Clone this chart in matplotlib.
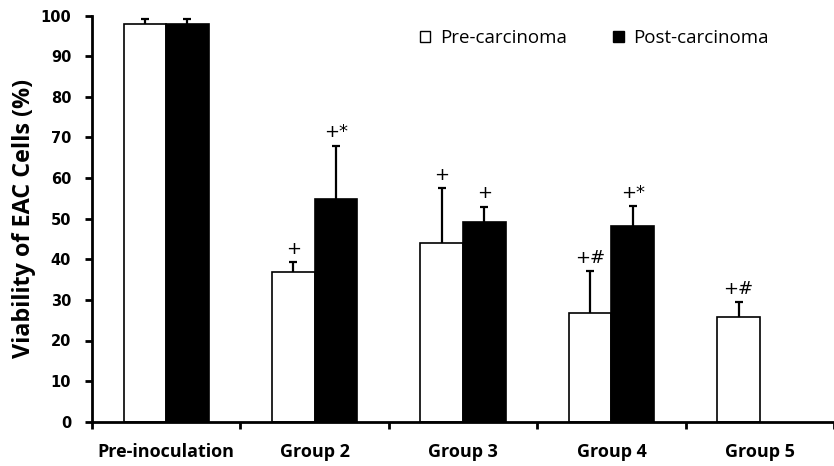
import matplotlib
matplotlib.use("Agg")
import matplotlib.pyplot as plt
from matplotlib.patches import Patch
import numpy as np

# Data
categories = ["Pre-inoculation", "Group 2", "Group 3", "Group 4", "Group 5"]
pre_vals = [98.0, 36.9, 43.9, 26.7, 25.8]
pre_err = [1.3, 2.4, 13.6, 10.4, 3.6]
post_vals = [98.0, 54.9, 49.3, 48.2, None]
post_err = [1.3, 13.1, 3.7, 4.9, None]
pre_marks = ["", "+", "+", "+#", "+#"]
post_marks = ["", "+*", "+", "+*", ""]
legend_labels = ["Pre-carcinoma", "Post-carcinoma"]
y_ticks = list(range(0, 101, 10))

label_font = "Open Sans"

fig = plt.figure(figsize=(8.34, 4.66), dpi=100)
ax = fig.add_axes([92 / 834, 1 - 421.7 / 466, 1 - 92 / 834, (421.7 - 15.7) / 466])

x = np.arange(len(categories))
w = 0.287


def upper_error(xpos, val, err):
    """Draw a one-sided (upward) error bar with a single cap."""
    eb = ax.errorbar([xpos], [val], yerr=[[0], [err]], fmt="none", ecolor="black",
                     elinewidth=1.6, capsize=3.0, capthick=1.6, zorder=3)
    for cap in eb.lines[1]:
        if np.allclose(cap.get_ydata(), val):
            cap.set_visible(False)


def mark(xpos, top, text):
    ax.annotate(text, (xpos, top), xytext=(0, 3), textcoords="offset points",
                ha="center", va="bottom", fontsize=13, family="DejaVu Sans")


for i in range(len(categories)):
    ax.bar(x[i] - w / 2, pre_vals[i], width=w, color="white", edgecolor="black",
           linewidth=1.2, zorder=2)
    upper_error(x[i] - w / 2, pre_vals[i], pre_err[i])
    if pre_marks[i]:
        mark(x[i] - w / 2, pre_vals[i] + pre_err[i], pre_marks[i])
    if post_vals[i] is not None:
        ax.bar(x[i] + w / 2, post_vals[i], width=w, color="black", edgecolor="black",
               linewidth=1.2, zorder=2)
        upper_error(x[i] + w / 2, post_vals[i], post_err[i])
        if post_marks[i]:
            mark(x[i] + w / 2, post_vals[i] + post_err[i], post_marks[i])

ax.set_xlim(-0.5, (834 - 92) / 150 - 0.5)
ax.set_ylim(0, 100)

ax.set_yticks(y_ticks)
ax.set_yticklabels([str(t) for t in y_ticks], fontsize=10.5, fontweight="bold",
                   family="DejaVu Sans")
ax.set_xticks(x)
ax.set_xticklabels(categories, fontsize=13, fontweight="bold", family=label_font)
ax.set_xticks(np.arange(-0.5, len(categories)), minor=True)
ax.tick_params(axis="x", which="major", length=0, pad=15)
ax.tick_params(axis="x", which="minor", length=5, width=2, direction="out")
ax.tick_params(axis="y", length=5, width=2, direction="out", pad=10)

for side in ["top", "right"]:
    ax.spines[side].set_visible(False)
for side in ["left", "bottom"]:
    ax.spines[side].set_linewidth(2)

ax.set_ylabel("Viability of EAC Cells (%)", fontsize=16.8, fontweight="bold",
              family=label_font)
ax.yaxis.set_label_coords(-0.0755, 0.5)

handles = [Patch(facecolor="white", edgecolor="black", linewidth=1.0),
           Patch(facecolor="black", edgecolor="black", linewidth=1.0)]
ax.legend(handles, legend_labels, ncol=2, frameon=False,
          prop={"family": label_font, "size": 13.5},
          handlelength=0.55, handleheight=0.55, handletextpad=0.5,
          columnspacing=2.5, loc="center", bbox_to_anchor=(0.677, 0.945))

fig.savefig("out.png", dpi=100)
